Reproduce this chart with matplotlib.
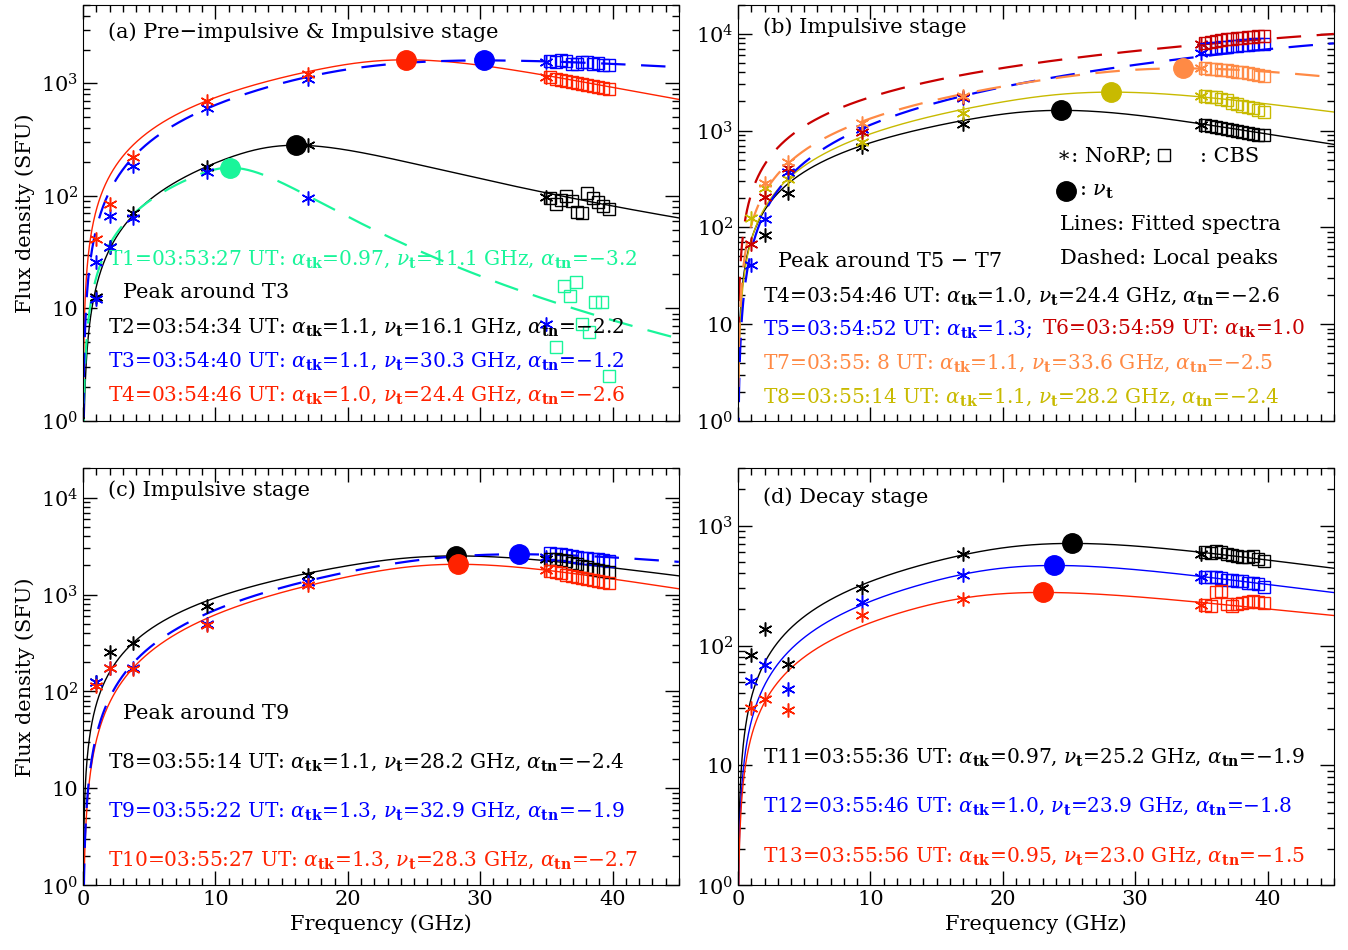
import numpy as np
import matplotlib
matplotlib.use('Agg')
import matplotlib.pyplot as plt
from matplotlib.ticker import FixedLocator, MultipleLocator, NullFormatter

plt.rcParams['font.family'] = ['DejaVu Serif']
plt.rcParams['mathtext.fontset'] = 'dejavuserif'

# ---- colours
RED = '#ff2200'
BLUE = '#0000ff'
GREEN = '#19f59a'
DRED = '#c80000'
ORANGE = '#ff8a45'
OLIVE = '#c8ba00'
BLACK = 'black'

# ---- frequencies
norp_f = [1.0, 2.0, 3.75, 9.4, 17.0, 35.0]
cbs_f = [35.3, 35.7, 36.1, 36.5, 36.9, 37.3, 37.7, 38.1, 38.5, 38.9, 39.3, 39.7]

# ---- panel (a)
t1_norp = [12, 35, 63, 163, 96, 7.2]          # drawn in blue in the original
t1_cbs_f = [35.7, 36.3, 36.8, 37.2, 37.7, 38.2, 38.7, 39.2, 39.7]
t1_cbs = [4.5, 15.9, 13.0, 17.3, 7.2, 6.2, 11.5, 11.5, 2.5]
t2_norp = [12.5, 35, 70, 180, 282, 98]
t2_cbs = [95, 85, 92, 100, 90, 72, 70, 105, 96, 88, 82, 76]
t3_norp = [26, 66, 184, 610, 1100, 1540]
t3_cbs = [1580, 1560, 1600, 1570, 1500, 1480, 1560, 1540, 1500, 1520, 1470, 1450]
t4_norp = [41, 85, 222, 700, 1200, 1150]
t4_cbs = [1130, 1100, 1080, 1060, 1030, 1000, 990, 970, 950, 930, 910, 890]

# ---- panel (b)
b_t4_norp = [None, 83, 224, 670, 1180, 1150]
b_t4_cbs = [1150, 1120, 1100, 1070, 1040, 1010, 990, 970, 950, 930, 910, 900]
t5_norp = [41, 123, 370, 1050, 2180, 6300]
t5_cbs = [7000, 7100, 7200, 7300, 7400, 7500, 7500, 7600, 7700, 7800, 7800, 7900]
t6_norp = [68, 205, 415, 960, 2200, 7900]
t6_cbs = [8000, 8300, 8500, 8600, 8800, 8900, 9000, 9100, 9200, 9300, 9400, 9500]
t7_norp = [None, 290, 470, 1200, 2300, 4400]
t7_cbs = [4400, 4350, 4300, 4250, 4200, 4100, 4050, 4000, 3950, 3850, 3800, 3700]
b_t8_norp = [125, 255, 315, 760, 1530, 2300]
b_t8_cbs = [2300, 2250, 2200, 2100, 2050, 1950, 1900, 1800, 1750, 1700, 1620, 1550]

# ---- panel (c)
c_t8_norp = [126, 255, 315, 770, 1600, 2350]
c_t8_cbs = [2350, 2300, 2250, 2200, 2100, 2050, 1950, 1900, 1850, 1800, 1750, 1700]
t9_norp = [126, 173, 173, 500, 1350, 2450]
t9_cbs = [2650, 2600, 2600, 2550, 2500, 2450, 2400, 2400, 2350, 2300, 2250, 2200]
t10_norp = [115, 173, 170, 490, 1240, 1780]
t10_cbs = [1750, 1700, 1650, 1600, 1550, 1500, 1480, 1450, 1400, 1380, 1340, 1300]

# ---- panel (d)
t11_norp = [84, 138, 70, 300, 575, 585]
t11_cbs = [600, 590, 610, 600, 580, 570, 560, 550, 545, 555, 530, 510]
t12_norp = [51, 69, 43, 230, 390, 370]
t12_cbs = [375, 370, 372, 365, 355, 350, 348, 345, 335, 330, 325, 310]
t13_norp = [30, 35.5, 29, 180, 245, 218]
t13_cbs = [218, 215, 280, 285, 222, 215, 220, 225, 230, 235, 232, 225]

# ---- fitted spectra: peak flux, turnover freq, alpha_tk, alpha_tn
fits = {
    'T1': (178, 11.1, 0.97, -3.2),
    'T2': (282, 16.1, 1.1, -2.2),
    'T3': (1600, 30.3, 1.1, -1.2),
    'T4': (1620, 24.4, 1.0, -2.6),
    'T5': (9500, 60.0, 1.3, -2.0),
    'T6': (17000, 90.0, 1.0, -2.0),
    'T7': (4400, 33.6, 1.1, -2.5),
    'T8': (2500, 28.2, 1.1, -2.4),
    'T9': (2600, 32.9, 1.3, -1.9),
    'T10': (2050, 28.3, 1.3, -2.7),
    'T11': (710, 25.2, 0.97, -1.9),
    'T12': (465, 23.9, 1.0, -1.8),
    'T13': (277, 23.0, 0.95, -1.5),
}


def spectrum(f, sp, nut, a, b):
    # gyrosynchrotron-like fit form, rescaled so the maximum sits at nut
    g = lambda x: x**a * (1 - np.exp(-x**(b - a))) / (1 - np.exp(-1))
    xs = np.linspace(0.3, 2.0, 4000)
    xm = xs[np.argmax(g(xs))]
    return sp * g(f / nut * xm) / g(xm)


fgrid = np.linspace(0.03, 45, 2000)


def curve(ax, key, color, dashed=False):
    sp, nut, a, b = fits[key]
    if dashed:
        ax.plot(fgrid, spectrum(fgrid, sp, nut, a, b), color=color, lw=1.6,
                dashes=(11, 7))
    else:
        ax.plot(fgrid, spectrum(fgrid, sp, nut, a, b), color=color, lw=1.0)


def stars(ax, vals, color):
    ff = [f for f, v in zip(norp_f, vals) if v is not None]
    vv = [v for v in vals if v is not None]
    ax.plot(ff, vv, ls='none', marker=(6, 2, 0), ms=10, mew=1.1, color=color)


def squares(ax, vals, color, freqs=cbs_f):
    ax.plot(freqs, vals, ls='none', marker='s', ms=8, mfc='none', mew=1.0,
            color=color)


def dot(ax, key, color):
    sp, nut, a, b = fits[key]
    ax.plot([nut], [sp], 'o', ms=14, color=color, zorder=5)


def style(ax, ytop, xlabels=False, ylabel=False):
    ax.set_xlim(0, 45)
    ax.set_yscale('log')
    ax.set_ylim(1, ytop)
    ax.xaxis.set_major_locator(MultipleLocator(10))
    ax.xaxis.set_minor_locator(MultipleLocator(1))
    ax.tick_params(which='both', direction='in', top=True, right=True,
                   labelsize=15)
    ax.tick_params(which='major', length=10, width=1)
    ax.tick_params(which='minor', length=5, width=1)
    dec = [1, 10, 100, 1000, 10000]
    ax.yaxis.set_major_locator(FixedLocator(dec))
    ax.set_yticklabels(['10$^0$', '10', '10$^2$', '10$^3$', '10$^4$'])
    if not xlabels:
        ax.xaxis.set_major_formatter(NullFormatter())
    else:
        ax.set_xlabel('Frequency (GHz)', fontsize=15)
    if ylabel:
        ax.set_ylabel('Flux density (SFU)', fontsize=15)


def al(sub):
    return r'$\alpha_{\mathbf{' + sub + '}}$'


NU = r'$\nu_{\mathbf{t}}$'


def line(ax, y, head, color, atk, nut=None, atn=None, x=0.042):
    s = head + ' UT: ' + al('tk') + '=' + atk
    if nut is not None:
        s += ', ' + NU + '=' + nut + ' GHz, ' + al('tn') + '=' + atn
    ax.text(x, y, s, transform=ax.transAxes, color=color, fontsize=14.5,
            va='center')


fig = plt.figure(figsize=(13.48, 9.5), dpi=100)
axa = fig.add_axes([0.0616, 0.557, 0.442, 0.438])
axb = fig.add_axes([0.5475, 0.557, 0.442, 0.438])
axc = fig.add_axes([0.0616, 0.068, 0.442, 0.439])
axd = fig.add_axes([0.5475, 0.068, 0.442, 0.439])

# ---------------- (a)
curve(axa, 'T2', BLACK)
curve(axa, 'T4', RED)
curve(axa, 'T1', GREEN, dashed=True)
curve(axa, 'T3', BLUE, dashed=True)
stars(axa, t2_norp, BLACK)
stars(axa, t1_norp, BLUE)
stars(axa, t3_norp, BLUE)
stars(axa, t4_norp, RED)
squares(axa, t1_cbs, GREEN, t1_cbs_f)
squares(axa, t2_cbs, BLACK)
squares(axa, t3_cbs, BLUE)
squares(axa, t4_cbs, RED)
dot(axa, 'T1', GREEN)
dot(axa, 'T2', BLACK)
dot(axa, 'T3', BLUE)
dot(axa, 'T4', RED)
style(axa, 5000, ylabel=True)
axa.text(0.042, 0.935, '(a) Pre\u2212impulsive & Impulsive stage',
         transform=axa.transAxes, fontsize=15, va='center')
line(axa, 0.389, 'T1=03:53:27', GREEN, '0.97', '11.1', '\u22123.2')
axa.text(0.067, 0.308, 'Peak around T3', transform=axa.transAxes,
         fontsize=15, va='center')
line(axa, 0.226, 'T2=03:54:34', BLACK, '1.1', '16.1', '\u22122.2')
line(axa, 0.144, 'T3=03:54:40', BLUE, '1.1', '30.3', '\u22121.2')
line(axa, 0.0625, 'T4=03:54:46', RED, '1.0', '24.4', '\u22122.6')

# ---------------- (b)
curve(axb, 'T4', BLACK)
curve(axb, 'T8', OLIVE)
curve(axb, 'T6', DRED, dashed=True)
curve(axb, 'T5', BLUE, dashed=True)
curve(axb, 'T7', ORANGE, dashed=True)
stars(axb, b_t4_norp, BLACK)
stars(axb, b_t8_norp, OLIVE)
stars(axb, t5_norp, BLUE)
stars(axb, t6_norp, DRED)
stars(axb, t7_norp, ORANGE)
squares(axb, b_t4_cbs, BLACK)
squares(axb, b_t8_cbs, OLIVE)
squares(axb, t7_cbs, ORANGE)
squares(axb, t5_cbs, BLUE)
squares(axb, t6_cbs, DRED)
dot(axb, 'T4', BLACK)
dot(axb, 'T8', OLIVE)
dot(axb, 'T7', ORANGE)
style(axb, 20000)
axb.text(0.042, 0.947, '(b) Impulsive stage', transform=axb.transAxes,
         fontsize=15, va='center')
axb.text(0.535, 0.635, '\u2217: NoRP;', transform=axb.transAxes, fontsize=15,
         va='center')
axb.plot([0.715], [0.64], 's', ms=8, mfc='none', mew=1.0, color=BLACK,
         transform=axb.transAxes)
axb.text(0.775, 0.635, ': CBS', transform=axb.transAxes, fontsize=15,
         va='center')
axb.plot([0.55], [0.552], 'o', ms=14, color=BLACK, transform=axb.transAxes)
axb.text(0.572, 0.552, ': ' + NU, transform=axb.transAxes, fontsize=15,
         va='center')
axb.text(0.54, 0.471, 'Lines: Fitted spectra', transform=axb.transAxes,
         fontsize=15, va='center')
axb.text(0.54, 0.389, 'Dashed: Local peaks', transform=axb.transAxes,
         fontsize=15, va='center')
axb.text(0.067, 0.382, 'Peak around T5 \u2212 T7', transform=axb.transAxes,
         fontsize=15, va='center')
line(axb, 0.30, 'T4=03:54:46', BLACK, '1.0', '24.4', '\u22122.6')
line(axb, 0.221, 'T5=03:54:52', BLUE, '1.3;')
line(axb, 0.221, 'T6=03:54:59', DRED, '1.0', x=0.51)
line(axb, 0.139, 'T7=03:55: 8', ORANGE, '1.1', '33.6', '\u22122.5')
line(axb, 0.058, 'T8=03:55:14', OLIVE, '1.1', '28.2', '\u22122.4')

# ---------------- (c)
curve(axc, 'T8', BLACK)
curve(axc, 'T10', RED)
curve(axc, 'T9', BLUE, dashed=True)
stars(axc, c_t8_norp, BLACK)
stars(axc, t9_norp, BLUE)
stars(axc, t10_norp, RED)
squares(axc, t9_cbs, BLUE)
squares(axc, c_t8_cbs, BLACK)
squares(axc, t10_cbs, RED)
dot(axc, 'T8', BLACK)
dot(axc, 'T9', BLUE)
dot(axc, 'T10', RED)
style(axc, 20000, xlabels=True, ylabel=True)
axc.text(0.042, 0.947, '(c) Impulsive stage', transform=axc.transAxes,
         fontsize=15, va='center')
axc.text(0.067, 0.412, 'Peak around T9', transform=axc.transAxes,
         fontsize=15, va='center')
line(axc, 0.295, 'T8=03:55:14', BLACK, '1.1', '28.2', '\u22122.4')
line(axc, 0.177, 'T9=03:55:22', BLUE, '1.3', '32.9', '\u22121.9')
line(axc, 0.06, 'T10=03:55:27', RED, '1.3', '28.3', '\u22122.7')

# ---------------- (d)
curve(axd, 'T11', BLACK)
curve(axd, 'T12', BLUE)
curve(axd, 'T13', RED)
stars(axd, t11_norp, BLACK)
stars(axd, t12_norp, BLUE)
stars(axd, t13_norp, RED)
squares(axd, t11_cbs, BLACK)
squares(axd, t12_cbs, BLUE)
squares(axd, t13_cbs, RED)
dot(axd, 'T11', BLACK)
dot(axd, 'T12', BLUE)
dot(axd, 'T13', RED)
style(axd, 3000, xlabels=True)
axd.text(0.042, 0.93, '(d) Decay stage', transform=axd.transAxes,
         fontsize=15, va='center')
line(axd, 0.307, 'T11=03:55:36', BLACK, '0.97', '25.2', '\u22121.9')
line(axd, 0.19, 'T12=03:55:46', BLUE, '1.0', '23.9', '\u22121.8')
line(axd, 0.07, 'T13=03:55:56', RED, '0.95', '23.0', '\u22121.5')

fig.savefig('out.png', dpi=100)
